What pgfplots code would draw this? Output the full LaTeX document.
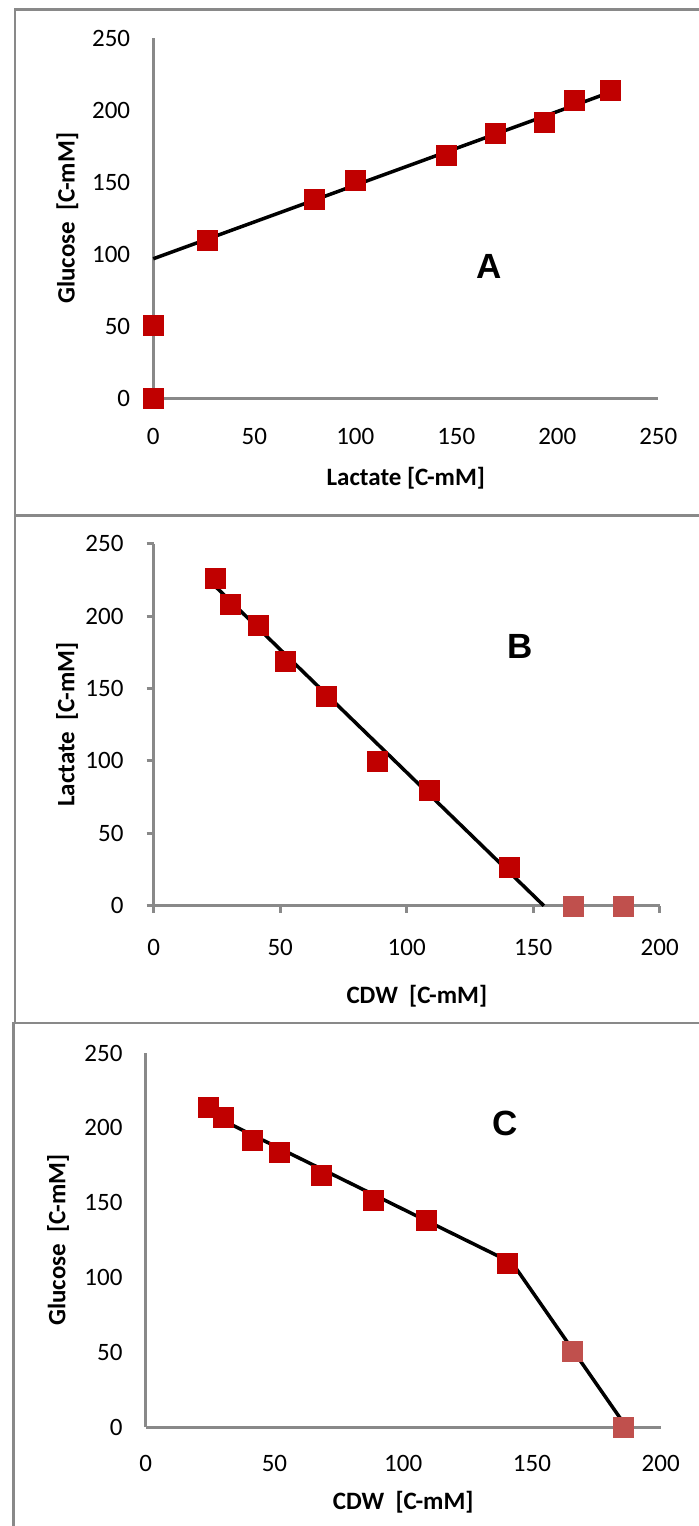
\documentclass[border=0pt]{standalone}
\usepackage{fontspec}
\setmainfont{Carlito}
\newfontfamily\letterfont{Liberation Sans}
\usepackage{pgfplots}
\usepackage{pgfplotstable}
\pgfplotsset{compat=1.18}

\definecolor{axisgray}{HTML}{898989}
\definecolor{darkred}{HTML}{C00000}
\definecolor{lightred}{HTML}{C0504D}

% CDW, lactate and glucose, all in C-mM
\pgfplotstableread{
cdw   lactate glucose
24.3  226.0   213.8
30.2  208.5   206.8
41.5  193.6   191.7
52.0  169.2   184.0
68.3  144.8   168.6
88.4  99.8    151.6
108.8 79.5    138.4
140.4 26.9    109.6
}\early
\pgfplotstableread{
cdw   lactate glucose
165.7 0       50.5
185.6 0       0
}\late

\pgfplotsset{
  panel/.style={
    scale only axis,
    axis lines=left,
    axis line style={-, draw=axisgray, line width=3bp},
    xmin=0, ymin=0, ymax=250,
    ytick={0,50,...,250},
    major tick length=0pt,
    clip=false,
    tick label style={font=\fontsize{25bp}{30bp}\selectfont, inner sep=0pt},
    xticklabel style={anchor=center},
    yticklabel style={anchor=east, xshift=-23bp},
    label style={font=\fontsize{25bp}{30bp}\selectfont\bfseries},
    xlabel style={anchor=center},
    ylabel style={anchor=center},
    /pgf/number format/assume math mode=true,
  },
  dots/.style={only marks, mark=square*, mark size=10bp, mark options={fill=#1, draw=#1, rounded corners=1.5bp}},
  fit/.style={black, line width=3.5bp, no marks},
}
\tikzset{tag/.style={font=\fontsize{35bp}{40bp}\selectfont\letterfont\bfseries}}

\begin{document}
\begin{tikzpicture}
\path[use as bounding box] (0,0) rectangle (699bp,-1526bp);

\begin{scope}[axisgray, line width=2.8bp]
  \draw (699bp,-9.3bp) -- (15bp,-9.3bp) -- (15bp,-1023bp);
  \draw (15bp,-515.7bp) -- (699bp,-515.7bp);
  \draw (699bp,-1023bp) -- (13.3bp,-1023bp) -- (13.3bp,-1526bp);
\end{scope}

% A: glucose against lactate
\begin{axis}[panel,
  at={(153.3bp,-398.3bp)}, anchor=origin,
  width=505bp, height=360bp,
  xmax=250, xtick={0,50,...,250},
  xticklabel style={yshift=-38bp},
  xlabel={Lactate [C-mM]}, ylabel={Glucose\ \ [C-mM]},
  xlabel style={at={(axis description cs:0.5,-0.222)}},
  ylabel style={at={(axis description cs:-0.170,0.5)}},
]
\addplot[dots=darkred] table[x=lactate, y=glucose] {\early};
\addplot[dots=darkred] table[x=lactate, y=glucose] {\late};
\addplot[fit] coordinates {(0,96.9) (226.9,212.9)};
\node[tag] at (axis cs:166.5,91.3) {A};
\end{axis}

% B: lactate against CDW
\begin{axis}[panel,
  at={(153.7bp,-905.7bp)}, anchor=origin,
  width=506bp, height=362bp,
  xmax=200, xtick={0,50,...,200},
  major tick length=7bp, tick align=outside,
  tick style={draw=axisgray, line width=3bp},
  xticklabel style={yshift=-35bp},
  xlabel={CDW\ \ [C-mM]}, ylabel={Lactate\ \ [C-mM]},
  xlabel style={at={(axis description cs:0.52,-0.251)}},
  ylabel style={at={(axis description cs:-0.171,0.5)}},
]
\addplot[dots=darkred] table[x=cdw, y=lactate] {\early};
\addplot[dots=lightred] table[x=cdw, y=lactate] {\late};
\addplot[fit] coordinates {(24.3,220.6) (154.2,0)};
\node[tag] at (axis cs:145,178.7) {B};
\end{axis}

% C: glucose against CDW
\begin{axis}[panel,
  at={(145.7bp,-1427bp)}, anchor=origin,
  width=515bp, height=374bp,
  xmax=200, xtick={0,50,...,200},
  xticklabel style={yshift=-36bp},
  xlabel={CDW\ \ [C-mM]}, ylabel={Glucose\ \ [C-mM]},
  xlabel style={at={(axis description cs:0.5,-0.202)}},
  ylabel style={at={(axis description cs:-0.170,0.5)}},
]
\addplot[dots=darkred] table[x=cdw, y=glucose] {\early};
\addplot[dots=lightred] table[x=cdw, y=glucose] {\late};
\addplot[fit] coordinates {(24.7,209.4) (142.4,109.6) (186.5,0.4)};
\node[tag] at (axis cs:139.6,203.2) {C};
\end{axis}
\end{tikzpicture}
\end{document}
